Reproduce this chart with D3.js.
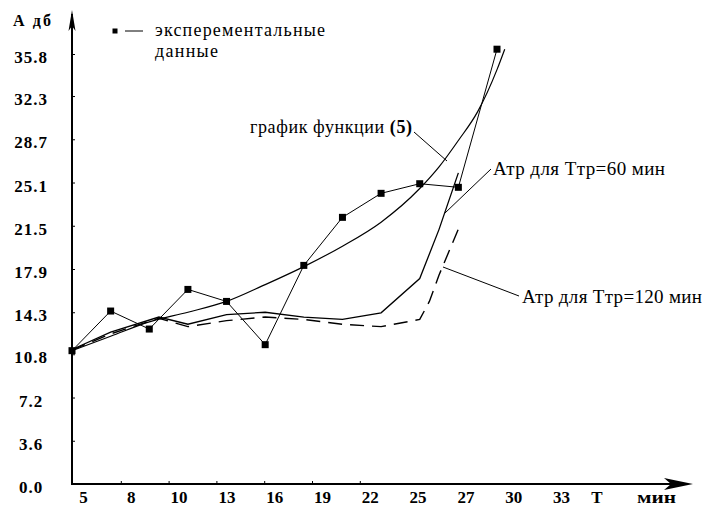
<!DOCTYPE html>
<html><head><meta charset="utf-8">
<script src="https://cdn.jsdelivr.net/npm/d3@7"></script>
<style>
body{margin:0;background:#fff}
svg{display:block}
</style>
</head><body>
<svg id="chart" width="703" height="506"></svg>
<script>
// ---- data ----
const xTickLabels = ["5","8","10","13","16","19","22","25","27","30","33"];
const yTickValues = [0,3.6,7.2,10.8,14.3,17.9,21.5,25.1,28.7,32.3,35.8];

const expTimes  = [5,7,9,11,13,15,17,19,21,23,25,27];
const expValues = [11.1,14.4,12.9,16.2,15.2,11.6,18.2,22.2,24.2,25.0,24.7,36.2];

const funcTimes  = [5,7,9,11,13,15,17,19,21,23,24,25,26,27,27.4];
const funcValues = [11.1,12.3,13.5,14.3,15.2,16.6,18.1,19.8,21.8,24.6,26.4,28.6,31.0,34.5,36.2];

const atr60Times  = [5,7,9.5,11,13,15,17,19,21,23,24,25];
const atr60Values = [11.2,12.65,13.9,13.3,14.1,14.3,13.9,13.7,14.25,17.1,21.2,25.9];

const atr120Times  = [5,7,9.5,11,13,15,17,19,21,23,23.5,24,25.1];
const atr120Values = [11.15,12.5,13.8,13.1,13.6,13.9,13.7,13.3,13.1,13.7,15.2,17.4,21.6];

const legendLines = ["эксперементальные","данные"];
const labelFunc = "график функции ";
const labelFuncNum = "(5)";
const label60 = "Атр для Ттр=60 мин";
const label120 = "Атр для Ттр=120 мин";
const yAxisTitle = "А дб";
const xAxisT = "T";
const xAxisUnit = "мин";

const FONT = '"Liberation Serif", "Times New Roman", serif';

// ---- scales ----
const svg = d3.select("#chart");
const x = d3.scaleLinear().domain([5,27]).range([72,497]);
const xTick = d3.scalePoint().domain(xTickLabels).range([73,551]);
const y = d3.scaleLinear().domain([0,35.8]).range([484,54]);

const zip = (t,v) => t.map((d,i)=>[d,v[i]]);

// ---- axes ----
const gx = svg.append("g").attr("transform","translate(0,484)")
  .call(d3.axisBottom(xTick).tickSizeInner(-3).tickSizeOuter(0).tickPadding(7));
gx.select(".domain").remove();
gx.selectAll(".tick line").attr("stroke","#000").attr("stroke-width",1);
gx.selectAll(".tick line").filter((d,i)=>i===0||i>6).remove();
gx.selectAll(".tick text").attr("dx",10).style("font-size","17px").style("font-weight","bold");

const gy = svg.append("g").attr("transform","translate(72,0)")
  .call(d3.axisLeft(y).tickValues(yTickValues).tickFormat(d3.format(".1f")).tickSizeInner(-3).tickSizeOuter(0));
gy.select(".domain").remove();
gy.selectAll(".tick line").attr("stroke","#000");
gy.selectAll(".tick text").attr("x",-41).attr("text-anchor","middle").attr("dy","0.5em")
  .style("font-size","17px").style("font-weight","bold").style("letter-spacing","1px");

// axis lines with arrows
svg.append("line").attr("x1",72).attr("y1",485).attr("x2",72).attr("y2",14).attr("stroke","#000").attr("stroke-width",2);
svg.append("path").attr("d","M72,10 L68.5,31 L72,26 L75.5,31 Z").attr("fill","#000");
svg.append("line").attr("x1",71).attr("y1",484).attr("x2",688).attr("y2",484).attr("stroke","#000").attr("stroke-width",2);
svg.append("path").attr("d","M693,484 L664,478 L671,484 L664,490 Z").attr("fill","#000");

svg.append("text").attr("x",13).attr("y",26).style("font-size","16px").style("font-weight","bold")
  .attr("textLength",38).attr("lengthAdjust","spacing").text(yAxisTitle);
svg.append("text").attr("x",597).attr("y",503).attr("text-anchor","middle").style("font-size","17px").style("font-weight","bold").text(xAxisT);
svg.append("text").attr("x",637).attr("y",503).style("font-size","16px").style("font-weight","bold")
  .attr("textLength",39).attr("lengthAdjust","spacingAndGlyphs").text(xAxisUnit);

// ---- lines ----
const lineLin = d3.line().x(d=>x(d[0])).y(d=>y(d[1]));
const lineSmooth = d3.line().x(d=>x(d[0])).y(d=>y(d[1])).curve(d3.curveMonotoneX);

svg.append("path").attr("d",lineLin(zip(atr120Times,atr120Values))).attr("fill","none")
  .attr("stroke","#000").attr("stroke-width",1.4).attr("stroke-dasharray","14,8");
svg.append("path").attr("d",lineLin(zip(atr60Times,atr60Values))).attr("fill","none")
  .attr("stroke","#000").attr("stroke-width",1.3);
svg.append("path").attr("d",lineSmooth(zip(funcTimes,funcValues))).attr("fill","none")
  .attr("stroke","#000").attr("stroke-width",1.2);
svg.append("path").attr("d",lineLin(zip(expTimes,expValues))).attr("fill","none")
  .attr("stroke","#000").attr("stroke-width",1);
svg.selectAll("rect.pt").data(zip(expTimes,expValues)).enter().append("rect").attr("class","pt")
  .attr("x",d=>x(d[0])-3.5).attr("y",d=>y(d[1])-3.5).attr("width",7).attr("height",7).attr("fill","#000");

// ---- legend ----
svg.append("rect").attr("x",112.5).attr("y",28.5).attr("width",5).attr("height",5).attr("fill","#000");
svg.append("line").attr("x1",125).attr("y1",31).attr("x2",143).attr("y2",31).attr("stroke","#000").attr("stroke-width",1);
const legWidths = [170,63];
svg.selectAll("text.leg").data(legendLines).enter().append("text").attr("class","leg")
  .attr("x",155).attr("y",(d,i)=>36+i*21).style("font-size","18px")
  .attr("textLength",(d,i)=>legWidths[i]).attr("lengthAdjust","spacing").text(d=>d);

// ---- annotations ----
const tf = svg.append("text").attr("x",250).attr("y",133).style("font-size","18px")
  .attr("textLength",162).attr("lengthAdjust","spacing");
tf.append("tspan").text(labelFunc);
tf.append("tspan").style("font-weight","bold").text(labelFuncNum);
svg.append("line").attr("x1",414).attr("y1",132).attr("x2",447).attr("y2",161).attr("stroke","#000");

svg.append("text").attr("x",493).attr("y",175).style("font-size","19px")
  .attr("textLength",172).attr("lengthAdjust","spacing").text(label60);
svg.append("line").attr("x1",491).attr("y1",169).attr("x2",445).attr("y2",213).attr("stroke","#000");

svg.append("text").attr("x",522).attr("y",303).style("font-size","19px")
  .attr("textLength",180).attr("lengthAdjust","spacing").text(label120);
svg.append("line").attr("x1",443).attr("y1",267).attr("x2",519).attr("y2",296).attr("stroke","#000");

// apply serif font inline on every text
svg.selectAll("g").attr("font-family",null);
svg.selectAll("text").style("font-family",FONT).attr("fill","#000");
</script>
</body></html>
